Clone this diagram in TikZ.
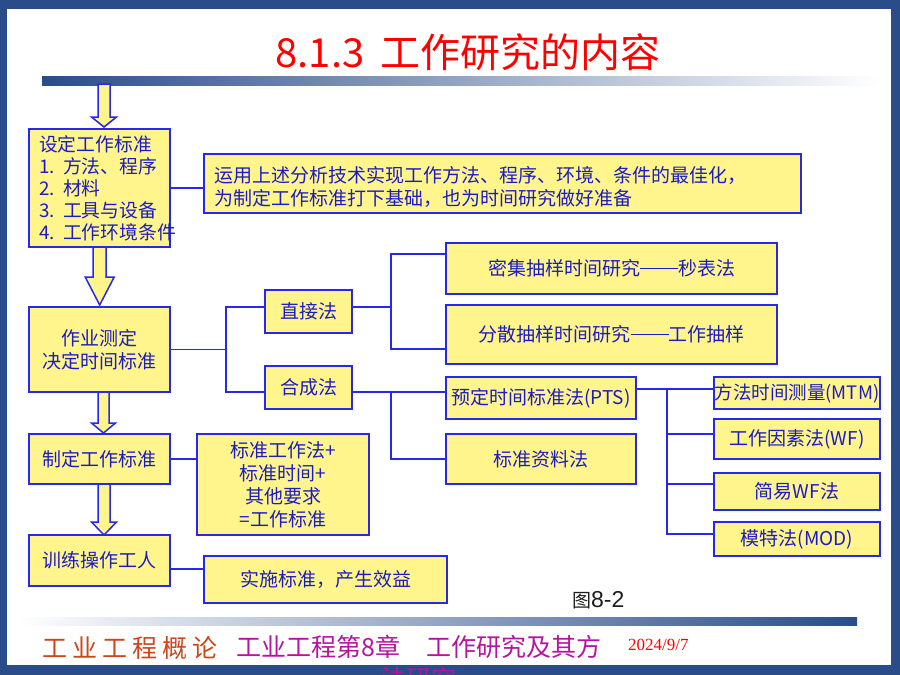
\documentclass[tikz,border=0pt]{standalone}
\usepackage{fontspec}
\setmainfont{Noto Sans CJK SC}
\newfontfamily\lserif{Liberation Serif}
\newfontfamily\lsans{Liberation Sans}
\definecolor{frameblue}{RGB}{42,76,136}
\definecolor{boxfill}{RGB}{255,245,140}
\definecolor{boxline}{RGB}{40,40,235}
\definecolor{boxtext}{RGB}{28,28,195}
\definecolor{footred}{RGB}{205,70,25}
\definecolor{footmag}{RGB}{180,20,160}
\definecolor{figgray}{RGB}{30,30,30}
\newcommand\blockarr[6]{\draw[barrow] (#1-#5,#2) -- (#1-#5,#3) -- (#1-#6,#3) -- (#1,#4) -- (#1+#6,#3) -- (#1+#5,#3) -- (#1+#5,#2) -- cycle;}
\newcommand\longdash{\rule[0.36em]{2em}{0.06em}}
\frenchspacing
\begin{document}
\begin{tikzpicture}[x=1pt,y=-1pt,
  bx/.style={draw=boxline, fill=boxfill, line width=1.6pt, inner sep=0pt, text=boxtext,
    font=\fontsize{19}{23}\selectfont, align=center},
  conn/.style={draw=boxline, line width=1.6pt},
  barrow/.style={draw=boxline, fill=boxfill, line width=1.5pt, line join=miter}]
\useasboundingbox (0,0) rectangle (900,675);
% slide frame
\fill[frameblue] (0,0) rectangle (900,675);
\fill[white] (7,9) rectangle (891,665);
\shade[left color=frameblue, right color=white] (42,76) rectangle (881,85);
\shade[left color=white, right color=frameblue] (17,617) rectangle (857,625);
% title
\node[text=red, font=\fontsize{40}{48}\selectfont, inner sep=0pt] (title) at (468,52) {8.1.3\hspace{16pt}工作研究的内容};
% block arrows
\blockarr{104}{84}{117}{127}{6}{12.5}
\blockarr{99.7}{246}{277}{305}{6.5}{14.5}
\blockarr{103.5}{392}{423}{433}{5.5}{12}
\blockarr{104}{484}{522}{535}{6}{12.5}
% boxes
\node[bx, minimum width=141pt, minimum height=118pt, text width=121pt, align=left,
  font=\fontsize{18.8}{22}\selectfont] (b1) at (99.5,188)
  {设定工作标准\\\mbox{1.\hspace{0.45em}方法、程序}\\\mbox{2.\hspace{0.45em}材料}\\\mbox{3.\hspace{0.45em}工具与设备}\\\mbox{4.\hspace{0.45em}工作环境条件}};
\node[bx, minimum width=597pt, minimum height=59pt, text width=577pt, align=left] (b2) at (502.5,183.5)
  {\rule{0pt}{24pt}运用上述分析技术实现工作方法、程序、环境、条件的最佳化，\\为制定工作标准打下基础，也为时间研究做好准备};
\node[bx, minimum width=141pt, minimum height=85pt] (b3) at (99.5,349.5) {作业测定\\决定时间标准};
\node[bx, minimum width=87pt, minimum height=43pt] (zj) at (308.5,311.5) {直接法};
\node[bx, minimum width=87pt, minimum height=43pt] (hc) at (308.5,387.5) {合成法};
\node[bx, minimum width=331pt, minimum height=51pt] (mj) at (611.5,268.5) {密集抽样时间研究\longdash 秒表法};
\node[bx, minimum width=331pt, minimum height=59pt] (fs) at (611.5,334.5) {分散抽样时间研究\longdash 工作抽样};
\node[bx, minimum width=190pt, minimum height=42pt] (pts) at (541,398) {预定时间标准法(PTS)};
\node[bx, minimum width=190pt, minimum height=50pt] (bz) at (541,459) {标准资料法};
\node[bx, minimum width=166pt, minimum height=32pt, font=\fontsize{18.5}{22}\selectfont] (mtm) at (797,393) {方法时间测量(MTM)};
\node[bx, minimum width=166pt, minimum height=40pt] (wf) at (797,439) {工作因素法(WF)};
\node[bx, minimum width=166pt, minimum height=37pt] (jy) at (797,491.5) {简易WF法};
\node[bx, minimum width=166pt, minimum height=34pt] (mod) at (797,539) {模特法(MOD)};
\node[bx, minimum width=141pt, minimum height=50pt] (b4) at (99.5,459) {制定工作标准};
\node[bx, minimum width=172pt, minimum height=101pt] (bs) at (283,484.5) {标准工作法+\\标准时间+\\其他要求\\=工作标准};
\node[bx, minimum width=141pt, minimum height=51pt] (b5) at (99.5,560.5) {训练操作工人};
\node[bx, minimum width=243pt, minimum height=47pt] (ss) at (325.5,579.5) {实施标准，产生效益};
% junction coordinates
\coordinate (t1) at (226,307);
\coordinate (t2) at (226,392);
\coordinate (t3) at (391,254);
\coordinate (t4) at (391,349);
\coordinate (t5) at (391,459);
\coordinate (t6) at (667,389);
\coordinate (t7) at (667,534);
\coordinate (t8) at (667,434);
\coordinate (t9) at (667,484);
\coordinate (t10) at (170,569);
% connectors
\draw[conn] (b1.east) -- (b1.east -| b2.west);
\draw[conn] (b3.east) -- (b3.east -| t1);
\draw[conn] (zj.west |- t1) -- (t1) -- (t2) -- (hc.west |- t2);
\draw[conn] (zj.east |- t1) -- (t3 |- t1);
\draw[conn] (mj.west |- t3) -- (t3) -- (t4) -- (fs.west |- t4);
\draw[conn] (hc.east |- t2) -- (pts.west |- t2);
\draw[conn] (t3 |- t2) -- (t5) -- (bz.west |- t5);
\draw[conn] (pts.east |- t6) -- (mtm.west |- t6);
\draw[conn] (t6) -- (t7) -- (mod.west |- t7);
\draw[conn] (t8) -- (wf.west |- t8);
\draw[conn] (t9) -- (jy.west |- t9);
\draw[conn] (b4.east) -- (b4.east -| bs.west);
\draw[conn] (b5.east |- t10) -- (ss.west |- t10);
% figure label
\node[inner sep=0pt, anchor=west, text=figgray] (fig) at (572,600)
  {\fontsize{19}{22}\selectfont 图\lsans\fontsize{23}{26}\selectfont 8-2};
% footer
\node[text=footred, font=\fontsize{25}{30}\selectfont, anchor=west, inner sep=0pt] (f1) at (42,648)
  {工\hspace{5pt}业\hspace{5pt}工\hspace{5pt}程\hspace{5pt}概\hspace{5pt}论};
\node[text=footmag, font=\fontsize{25}{32}\selectfont, anchor=north, inner sep=0pt, align=center] (f2) at (419,635)
  {工业工程第8章\hspace{26pt}工作研究及其方\\法研究};
\node[text=red, font=\lserif\fontsize{17}{20}\selectfont, anchor=west, inner sep=0pt] (f3) at (628,645) {2024/9/7};
\end{tikzpicture}
\end{document}
